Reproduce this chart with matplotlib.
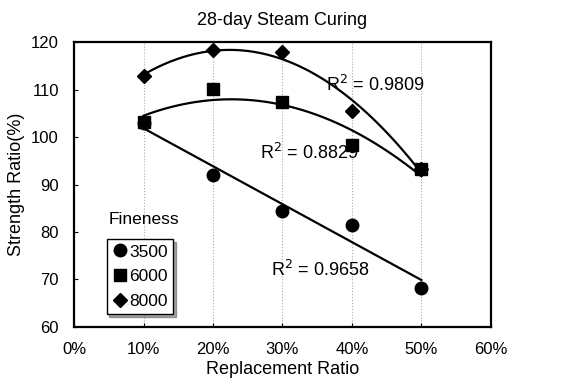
import matplotlib.pyplot as plt
import numpy as np

plt.rcParams['font.family'] = ['Liberation Sans', 'DejaVu Sans']

ratio = [0.1, 0.2, 0.3, 0.4, 0.5]
f3500 = [103.0, 92.0, 84.5, 81.5, 68.3]
f6000 = [103.2, 110.2, 107.3, 98.3, 93.2]
f8000 = [112.8, 118.3, 118.0, 105.5, 93.3]
r2_labels = ['R$^2$ = 0.9658', 'R$^2$ = 0.8829', 'R$^2$ = 0.9809']
r2_pos = [(0.283, 72.0), (0.268, 96.6), (0.362, 110.9)]

fig = plt.figure(figsize=(5.61, 3.86), dpi=100)
ax = fig.add_axes([0.132, 0.153, 0.743, 0.738])

xs = np.linspace(0.1, 0.5, 100)
series = [(f3500, 'o', '3500', 1), (f6000, 's', '6000', 2), (f8000, 'D', '8000', 2)]
for vals, mk, lab, deg in series:
    c = np.polyfit(ratio, vals, deg)
    ax.plot(xs, np.polyval(c, xs), color='black', lw=1.6, zorder=2)
    ms = 9 if mk != 'D' else 7
    ax.plot(ratio, vals, mk, color='black', ms=ms, label=lab, zorder=3)

for t, (x, y) in zip(r2_labels, r2_pos):
    ax.text(x, y, t, fontsize=13, va='center', ha='left')

ax.set_xlim(0, 0.6)
ax.set_ylim(60, 120)
ax.set_xticks([0, 0.1, 0.2, 0.3, 0.4, 0.5, 0.6])
ax.set_xticklabels(['0%', '10%', '20%', '30%', '40%', '50%', '60%'])
ax.set_yticks(range(60, 121, 10))
ax.tick_params(labelsize=12, length=3, direction='in', pad=11)
ax.xaxis.grid(True, color='#aaaaaa', ls=':', lw=0.8)
for s in ax.spines.values():
    s.set_linewidth(1.6)

ax.set_title('28-day Steam Curing', fontsize=13, pad=12)
ax.set_xlabel('Replacement Ratio', fontsize=13, labelpad=3)
ax.set_ylabel('Strength Ratio(%)', fontsize=13, labelpad=4)

leg = ax.legend(loc='lower left', bbox_to_anchor=(0.078, 0.045), fontsize=12.5,
                frameon=True, fancybox=False, shadow=True, handletextpad=0.0,
                handlelength=1.0, borderpad=0.3, labelspacing=0.55,
                borderaxespad=0)
leg.get_frame().set_edgecolor('black')
leg.get_frame().set_linewidth(1.0)
ax.text(0.083, 0.36, 'Fineness', transform=ax.transAxes, fontsize=12.5)

plt.savefig('out.png', dpi=100)
